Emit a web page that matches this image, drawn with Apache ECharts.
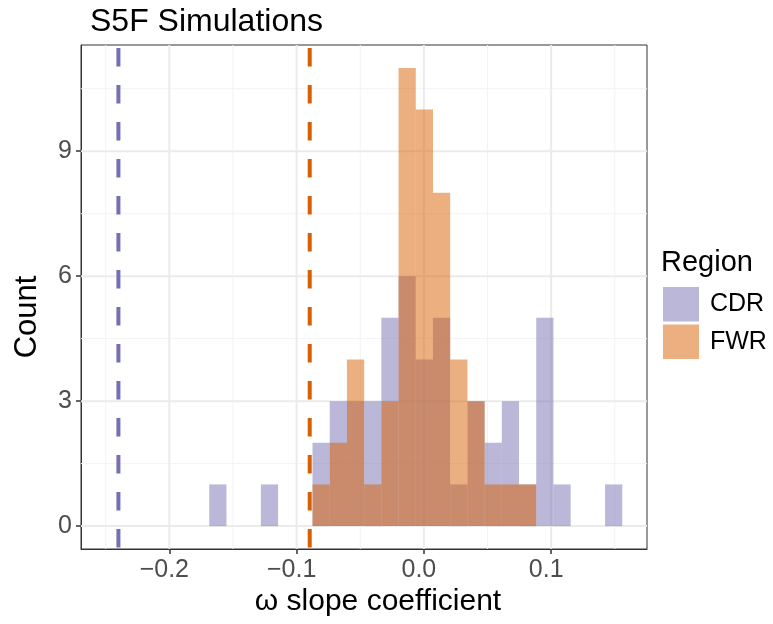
<!DOCTYPE html>
<html><head><meta charset="utf-8">
<script src="https://cdn.jsdelivr.net/npm/echarts@6/dist/echarts.min.js"></script>
<style>html,body{margin:0;padding:0;background:#fff}#c{width:773px;height:624px}</style>
</head><body><div id="c"></div>
<script>
// ---- data ----
const binCenters = [-0.161873,-0.148351,-0.134829,-0.121307,-0.107785,-0.094263,-0.080741,-0.067219,-0.053697,-0.040175,-0.026653,-0.013131,0.000391,0.013913,0.027435,0.040957,0.054479,0.068001,0.081523,0.095045,0.108567,0.122089,0.135611,0.149133];
const binWidth = 0.013522;
const cdrCounts = [1,0,0,1,0,0,2,3,3,3,5,6,4,5,1,3,2,3,1,5,1,0,0,1];
const fwrCounts = [0,0,0,0,0,0,1,2,4,1,3,11,10,8,4,3,1,1,1,0,0,0,0,0];
const regions = ['CDR','FWR'];
const vlineValues = [-0.2400, -0.0897];
const xTicks = [-0.2,-0.1,0.0,0.1];
const xTickLabels = ['\u22120.2','\u22120.1','0.0','0.1'];
const yTicks = [0,3,6,9];
const yTickLabels = ['0','3','6','9'];
const xMinor = [-0.25,-0.15,-0.05,0.05,0.15];
const yMinor = [1.5,4.5,7.5,10.5];

const FONT = '"Liberation Sans", Arial, Helvetica, sans-serif';
const fillColors = ['rgba(117,112,179,0.5)','rgba(217,95,2,0.5)'];
const lineColors = ['#7570b3','#d95f02'];

const chart = echarts.init(document.getElementById('c'), null, {renderer:'canvas'});

function lookup(ticks, labels){
  return v => { const i = ticks.findIndex(t => Math.abs(t - v) < 1e-9); return i >= 0 ? labels[i] : ''; };
}

// gridline items: [value, orientation(0 vertical,1 horizontal), major(1)/minor(0)]
const gridItems = []
  .concat(xMinor.map(v => [v, 0, 0]))
  .concat(yMinor.map(v => [v, 1, 0]))
  .concat(xTicks.map(v => [v, 0, 1]))
  .concat(yTicks.map(v => [v, 1, 1]));

function gridRender(params, api){
  const cs = params.coordSys;
  const v = api.value(0), o = api.value(1), major = api.value(2);
  let shape;
  if (o === 0) { const p = api.coord([v, 0]); shape = {x1:p[0], y1:cs.y, x2:p[0], y2:cs.y+cs.height}; }
  else { const p = api.coord([0, v]); shape = {x1:cs.x, y1:p[1], x2:cs.x+cs.width, y2:p[1]}; }
  return {type:'line', shape, style:{stroke: major ? '#ebebeb' : '#f3f3f3', lineWidth: major ? 2 : 1}, silent:true};
}

function barRender(color){
  return function(params, api){
    const c = api.value(0), n = api.value(1);
    if (!n) return null;
    const p1 = api.coord([c - binWidth/2, n]);
    const p2 = api.coord([c + binWidth/2, 0]);
    return {type:'rect', shape:{x:p1[0], y:p1[1], width:p2[0]-p1[0], height:p2[1]-p1[1]}, style:{fill:color}};
  };
}

function vlineRender(params, api){
  const cs = params.coordSys;
  const v = api.value(0), idx = api.value(1);
  const p = api.coord([v, 0]);
  return {type:'line', shape:{x1:p[0], y1:cs.y, x2:p[0], y2:cs.y+cs.height},
          style:{stroke: lineColors[idx], lineWidth:4, lineDash:[18.5,18.5], lineDashOffset:34}, silent:true};
}

const option = {
  animation:false,
  backgroundColor:'#fff',
  grid:{left:81, top:45, right:126, bottom:75, show:true, borderColor:'#333', borderWidth:1, backgroundColor:'transparent', containLabel:false, outerBoundsMode:'none'},
  xAxis:{type:'value', min:-0.2694, max:0.1753,
    axisLine:{show:true, onZero:false, lineStyle:{color:'#333', width:1}},
    axisTick:{show:true, length:5, customValues:xTicks, lineStyle:{color:'#333', width:1.5}},
    axisLabel:{customValues:xTicks, formatter:lookup(xTicks, xTickLabels), fontSize:25, color:'#4d4d4d', margin:9, fontFamily:FONT, padding:[0,10,0,0]},
    splitLine:{show:false}},
  yAxis:{type:'value', min:-0.55, max:11.55,
    axisLine:{show:true, onZero:false, lineStyle:{color:'#333', width:1}},
    axisTick:{show:true, length:5, customValues:yTicks, lineStyle:{color:'#333', width:1.5}},
    axisLabel:{customValues:yTicks, formatter:lookup(yTicks, yTickLabels), fontSize:25, color:'#4d4d4d', margin:9, fontFamily:FONT},
    splitLine:{show:false}},
  legend:{orient:'vertical', left:663, top:287, padding:0, itemWidth:36, itemHeight:34.5, itemGap:3, icon:'rect', selectedMode:false,
    data:[{name:regions[0], itemStyle:{color:fillColors[0]}},{name:regions[1], itemStyle:{color:fillColors[1]}}],
    textStyle:{fontSize:25, color:'#000', fontFamily:FONT, padding:[0,0,0,6]}},
  graphic:[
    {type:'text', left:90, top:6, style:{text:'S5F Simulations', font:'32px '+FONT, fill:'#000'}},
    {type:'text', left:661, top:248, style:{text:'Region', font:'29px '+FONT, fill:'#000'}},
    {type:'text', x:378, y:602, style:{text:'\u03c9 slope coefficient', font:'30px '+FONT, fill:'#000', align:'center', verticalAlign:'middle'}},
    {type:'text', x:27, y:317, rotation:Math.PI/2, style:{text:'Count', font:'31px '+FONT, fill:'#000', align:'center', verticalAlign:'middle'}}
  ],
  series:[
    {type:'custom', name:'grid', renderItem:gridRender, data:gridItems, z:1, silent:true, clip:true},
    {type:'custom', name:regions[0], renderItem:barRender(fillColors[0]), itemStyle:{color:fillColors[0]}, data:binCenters.map((c,i)=>[c, cdrCounts[i]]), z:2},
    {type:'custom', name:regions[1], renderItem:barRender(fillColors[1]), itemStyle:{color:fillColors[1]}, data:binCenters.map((c,i)=>[c, fwrCounts[i]]), z:3},
    {type:'custom', name:'vlines', renderItem:vlineRender, data:vlineValues.map((v,i)=>[v, i]), z:4, silent:true}
  ]
};
chart.setOption(option);
</script>
</body></html>
